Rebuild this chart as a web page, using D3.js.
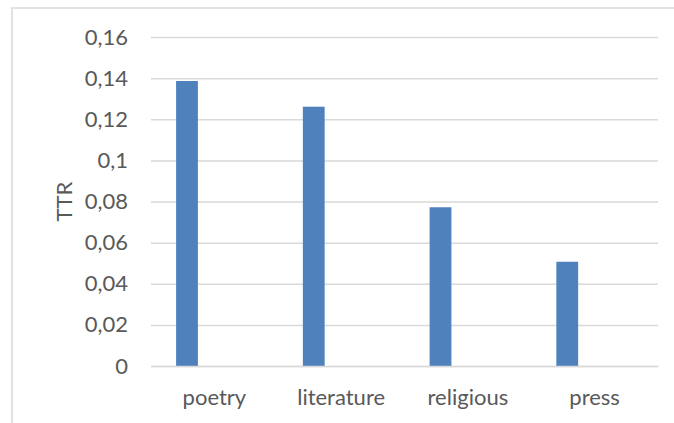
<!DOCTYPE html>
<html>
<head>
<meta charset="utf-8">
<script src="https://cdn.jsdelivr.net/npm/d3@7"></script>
<style>
    html, body { margin: 0; padding: 0; background: #fff; }
    #chart { width: 674px; height: 423px; }
    text { font-family: Lato, 'Liberation Sans', sans-serif; fill: #595959; }
</style>
</head>
<body>
<div id="chart"></div>
<script>
// defining data
const categories = ['poetry', 'literature', 'religious', 'press'];
const ttrValues = [0.1386, 0.1261, 0.0772, 0.0507];
const tickValues = [0, 0.02, 0.04, 0.06, 0.08, 0.1, 0.12, 0.14, 0.16];
const axisTitle = 'TTR';

const data = categories.map((c, i) => ({category: c, value: ttrValues[i]}));

// declaring setup/layout variables
const root = document.getElementById('chart');
const clientWidth = 674;
const clientHeight = 423;
const margin = {t: 37, r: 16, b: 57, l: 151};
const w = clientWidth - (margin.r + margin.l);
const h = clientHeight - (margin.t + margin.b);
const fontSize = '22px';

const svg = d3.select(root)
    .append('svg')
    .attr('width', clientWidth)
    .attr('height', clientHeight);

// chart area border (cut off on the right and bottom)
svg.append('rect')
    .attr('x', 12)
    .attr('y', 8)
    .attr('width', 800)
    .attr('height', 600)
    .style('fill', 'none')
    .style('stroke', '#d9d9d9')
    .style('stroke-width', 1.5);

const plot = svg.append('g')
    .attr('class', 'plot')
    .attr('transform', `translate(${margin.l},${margin.t})`);

// setting up scales
const scaleX = d3.scaleBand()
    .domain(categories)
    .range([0, w])
    .padding(0);
const scaleY = d3.scaleLinear()
    .domain([0, d3.max(tickValues)])
    .range([h, 0]);

const fmt = d => d3.format('.2~f')(d).replace('.', ',');

// y axis with gridlines
const axisY = d3.axisLeft()
    .scale(scaleY)
    .tickValues(tickValues)
    .tickSize(-w)
    .tickPadding(23)
    .tickFormat(fmt);

const axisYNode = plot.append('g')
    .attr('class', 'axis axis-y')
    .call(axisY);
axisYNode.select('.domain').remove();
axisYNode.selectAll('.tick line')
    .style('stroke', '#d9d9d9')
    .style('stroke-width', 1.5);
axisYNode.selectAll('.tick text')
    .style('font-size', fontSize)
    .style('font-family', "Lato, 'Liberation Sans', sans-serif")
    .style('fill', '#595959');

// bars (first slot of each category cluster)
plot.selectAll('.bar')
    .data(data)
    .enter()
    .append('rect')
    .attr('class', 'bar')
    .attr('x', d => scaleX(d.category) + scaleX.bandwidth() * 0.198)
    .attr('width', scaleX.bandwidth() * 0.172)
    .attr('y', d => scaleY(d.value))
    .attr('height', d => scaleY(0) - scaleY(d.value))
    .style('fill', '#4f81bd');

// x axis
const axisX = d3.axisBottom()
    .scale(scaleX)
    .tickSize(0)
    .tickPadding(23);

const axisXNode = plot.append('g')
    .attr('class', 'axis axis-x')
    .attr('transform', `translate(0,${h})`)
    .call(axisX);
axisXNode.select('.domain')
    .style('stroke', '#d9d9d9')
    .style('stroke-width', 1.5);
axisXNode.selectAll('.tick text')
    .style('font-size', fontSize)
    .style('font-family', "Lato, 'Liberation Sans', sans-serif")
    .style('fill', '#595959');

// axis title
svg.append('text')
    .attr('transform', `translate(72,${margin.t + h / 2}) rotate(-90)`)
    .attr('text-anchor', 'middle')
    .style('font-size', fontSize)
    .text(axisTitle);
</script>
</body>
</html>
